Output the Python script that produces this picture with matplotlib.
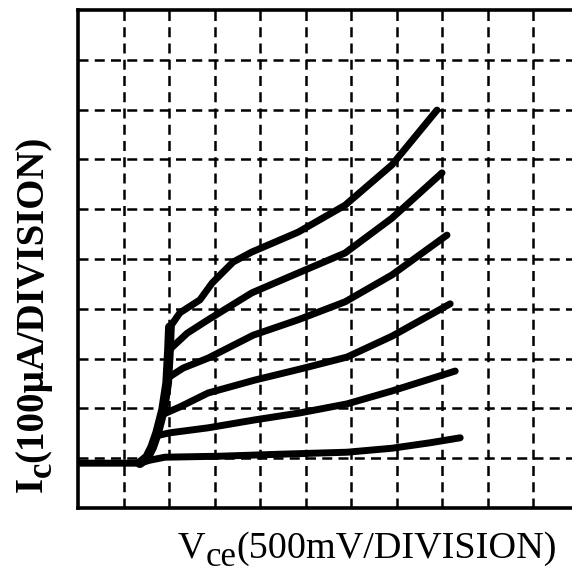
import matplotlib
matplotlib.use("Agg")
import matplotlib.pyplot as plt

# values (divisions)
flat_vce = [0.04, 1.36, 1.58, 1.91, 3.12, 4.44, 5.91, 6.90, 7.74, 8.40]
flat_ic = [0.90, 0.90, 0.96, 1.02, 1.04, 1.08, 1.12, 1.20, 1.31, 1.41]

knee_vce = [1.36, 1.52, 1.63, 1.74, 1.87, 1.96, 2.00, 2.02]
knee_ic = [0.90, 1.02, 1.22, 1.51, 1.97, 2.51, 3.17, 3.63]

step1_vce = [1.72, 2.02, 2.86, 3.89, 4.88, 5.91, 6.90, 8.29]
step1_ic = [1.45, 1.51, 1.61, 1.77, 1.91, 2.09, 2.35, 2.75]

step2_vce = [1.84, 2.24, 2.86, 3.89, 4.88, 5.91, 6.90, 8.18]
step2_ic = [1.87, 2.03, 2.31, 2.57, 2.79, 3.03, 3.45, 4.10]

step3_vce = [1.97, 2.31, 2.86, 3.85, 4.84, 5.87, 6.90, 8.11]
step3_ic = [2.61, 2.81, 3.01, 3.47, 3.78, 4.14, 4.68, 5.48]

step4_vce = [2.00, 2.40, 2.86, 3.82, 4.84, 5.87, 6.90, 8.00]
step4_ic = [3.17, 3.51, 3.78, 4.32, 4.72, 5.12, 5.82, 6.73]

step5_vce = [2.02, 2.24, 2.68, 2.95, 3.41, 3.82, 4.84, 5.87, 6.90, 7.89]
step5_ic = [3.63, 3.92, 4.18, 4.52, 4.94, 5.14, 5.54, 6.08, 6.89, 7.99]

x_grid = list(range(1, 11))
y_grid = list(range(1, 10))

# label pieces: (text, size, shift below baseline in px)
xlabel_parts = [("V", 27.5, 0), ("ce", 25, 8), ("(500mV/DIVISION)", 27.5, 0)]
ylabel_parts = [("I", 28, 0), ("c", 25, 9), ("(100µA/DIVISION)", 28, 0)]

W, H = 572, 576
fig = plt.figure(figsize=(W / 100, H / 100), dpi=100)
ax = fig.add_axes([78 / W, 68 / H, (W - 78) / W, 498 / H])

ax.set_xlim(0, (W - 78) / 45.5)
ax.set_ylim(0, 10)
ax.set_xticks(x_grid)
ax.set_yticks(y_grid)
ax.tick_params(length=0, labelbottom=False, labelleft=False)
ax.grid(True, color="black", linewidth=1.8, linestyle=(0, (4, 2.5)))
ax.set_axisbelow(True)

for side in ["left", "bottom", "top"]:
    ax.spines[side].set_linewidth(2.6)
ax.spines["right"].set_visible(False)

kw = dict(color="black", linewidth=5, solid_capstyle="round", solid_joinstyle="round")
ax.plot(flat_vce, flat_ic, **kw)
ax.plot(knee_vce, knee_ic, color="black", linewidth=7, solid_capstyle="round",
        solid_joinstyle="round")
for xs, ys in [(step1_vce, step1_ic), (step2_vce, step2_ic), (step3_vce, step3_ic),
               (step4_vce, step4_ic), (step5_vce, step5_ic)]:
    ax.plot(xs, ys, **kw)

renderer = fig.canvas.get_renderer()


def place_horizontal(parts, x0, base, **font):
    x = x0
    for txt, size, drop in parts:
        t = fig.text(x / W, 1 - (base + drop) / H, txt, fontsize=size,
                     ha="left", va="baseline", **font)
        x = t.get_window_extent(renderer).x1


def place_vertical(parts, y0, base, **font):
    # text runs bottom to top, baseline at pixel column `base`
    y = H - y0
    for txt, size, drop in parts:
        t = fig.text((base + drop) / W, y / H, txt, fontsize=size, rotation=90,
                     rotation_mode="anchor", ha="left", va="baseline", **font)
        y = t.get_window_extent(renderer).y1


place_horizontal(xlabel_parts, 178, 558, family="Liberation Serif")
place_vertical(ylabel_parts, 492, 42, family="Liberation Serif", fontweight="bold")

fig.savefig("out.png", dpi=100)
